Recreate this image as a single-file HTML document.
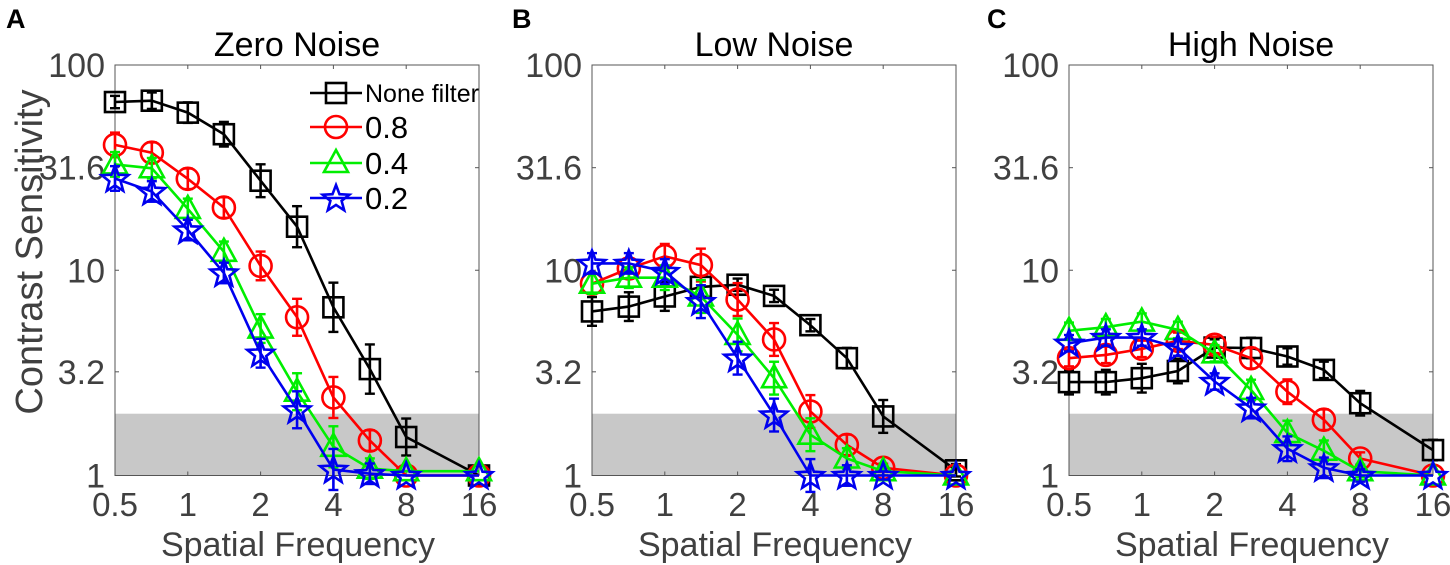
<!DOCTYPE html>
<html><head><meta charset="utf-8"><style>
html,body{margin:0;padding:0;background:#fff;}
svg{display:block;font-family:"Liberation Sans",Arial,sans-serif;}
</style></head><body>
<svg id="fig" width="1450" height="565" viewBox="0 0 1450 565" xmlns="http://www.w3.org/2000/svg"></svg>
<script>
const freqs=[0.5,0.71,1,1.41,2,2.83,4,5.66,8,16];
const xTicks=[0.5,1,2,4,8,16];
const xTickLabels=["0.5","1","2","4","8","16"];
const yTicks=[1,3.2,10,31.6,100];
const yTickLabels=["1","3.2","10","31.6","100"];
const panelTitles=["Zero Noise","Low Noise","High Noise"];
const panelLetters=["A","B","C"];
const seriesNames=["None filter","0.8","0.4","0.2"];
const shadeTop=2;
// panel A
const zeroBlack=[66,67,58.6,46,27.3,16.3,6.6,3.3,1.54,1];
const zeroRed=[40.8,37.4,27.9,20.2,10.5,5.9,2.4,1.48,1,1];
const zeroGreen=[32.8,31.4,19.9,12.3,5.2,2.56,1.38,1.08,1.05,1.05];
const zeroBlue=[28,24.2,15.7,9.7,3.94,2.09,1.07,1.02,1,1];
const zeroBlackErr=[0.03,0.04,0.05,0.06,0.08,0.1,0.12,0.12,0.09,0];
const zeroColErr=[0.06,0.05,0.05,0.05,0.07,0.09,0.1,0.05,0,0];
// panel B
const lowBlack=[6.3,6.65,7.45,8.3,8.5,7.5,5.4,3.73,1.94,1.06];
const lowRed=[8.6,10.2,11.7,10.6,7.2,4.6,2.05,1.41,1.09,1];
const lowGreen=[8.6,9.2,9.2,7.45,4.84,2.98,1.58,1.21,1.05,1];
const lowBlue=[10.8,10.8,9.86,7.03,3.73,1.97,1,1,1,1];
const lowBlackErr=[0.07,0.07,0.07,0.05,0.03,0.03,0.03,0.05,0.08,0.03];
const lowColErr=[0.05,0.05,0.06,0.08,0.08,0.08,0.08,0.05,0.02,0];
// panel C
const highBlack=[2.85,2.85,2.98,3.23,4.2,4.18,3.8,3.27,2.25,1.33];
const highRed=[3.73,3.87,4.14,4.53,4.33,3.73,2.56,1.87,1.21,1];
const highGreen=[5.07,5.28,5.62,5.12,3.94,2.61,1.61,1.32,1.05,1];
const highBlue=[4.41,4.7,4.7,4.2,2.87,2.13,1.35,1.09,1,1];
const highBlackErr=[0.06,0.06,0.07,0.06,0.04,0.05,0.04,0.04,0.06,0.05];
const highColErr=[0.04,0.04,0.04,0.04,0.04,0.05,0.06,0.05,0.03,0];

const panels=[
 {left:115,letterX:6,series:[zeroBlack,zeroRed,zeroGreen,zeroBlue],errs:[zeroBlackErr,zeroColErr,zeroColErr,zeroColErr]},
 {left:592,letterX:512,series:[lowBlack,lowRed,lowGreen,lowBlue],errs:[lowBlackErr,lowColErr,lowColErr,lowColErr]},
 {left:1069,letterX:987,series:[highBlack,highRed,highGreen,highBlue],errs:[highBlackErr,highColErr,highColErr,highColErr]}
];
const colors=["#000","#ff0000","#00ee00","#0000ee"];
const W=364,TOP=65,BOT=475.5;
const NS="http://www.w3.org/2000/svg";
const svg=document.getElementById('fig');
function mk(tag,attrs,parent,txt){const e=document.createElementNS(NS,tag);for(const k in attrs)e.setAttribute(k,attrs[k]);if(txt!==undefined)e.textContent=txt;(parent||svg).appendChild(e);return e;}
function starPts(cx,cy,R){const r=R*0.42;let p=[];for(let i=0;i<10;i++){const a=-Math.PI/2+i*Math.PI/5;const rr=i%2?r:R;p.push((cx+rr*Math.cos(a)).toFixed(1)+','+(cy+rr*Math.sin(a)).toFixed(1));}return p.join(' ');}
function marker(k,cx,cy,g){
 const c=colors[k];const st={fill:'none',stroke:c,'stroke-width':2.6};
 let m;
 if(k===0){m=mk('rect',Object.assign({x:cx-10,y:cy-10,width:20,height:20},st),g);}
 else if(k===1){m=mk('circle',Object.assign({cx:cx,cy:cy,r:11},st),g);}
 else if(k===2){m=mk('polygon',Object.assign({points:`${cx},${cy-13} ${cx+12},${cy+9} ${cx-12},${cy+9}`},st),g);}
 else {m=mk('polygon',Object.assign({points:starPts(cx,cy+1,14)},st),g);}
 
 
}
panels.forEach((P,pi)=>{
 const L=P.left,R=L+W;
 const xs=v=>L+Math.log2(v/0.5)/5*W;
 const ys=v=>BOT-Math.log10(v)/2*(BOT-TOP);
 const g=mk('g',{});
 
 
 const sh=mk('rect',{x:L,y:ys(shadeTop),width:W,height:BOT-ys(shadeTop),fill:'#c8c8c8'},g);
 
 
 const ax=mk('rect',{x:L,y:TOP,width:W,height:BOT-TOP,fill:'none',stroke:'#555','stroke-width':1},g);
 
 
 xTicks.forEach((t,i)=>{
  const x=xs(t);
  mk('line',{x1:x,y1:BOT,x2:x,y2:BOT-4,stroke:'#555'},g);
  mk('line',{x1:x,y1:TOP,x2:x,y2:TOP+4,stroke:'#555'},g);
  const tl=mk('text',{x:x,y:516,'text-anchor':'middle','font-size':33,fill:'#404040'},g,xTickLabels[i]);
  
  
 });
 yTicks.forEach((t,i)=>{
  const y=ys(t);
  mk('line',{x1:L,y1:y,x2:L+4,y2:y,stroke:'#555'},g);
  mk('line',{x1:R,y1:y,x2:R-4,y2:y,stroke:'#555'},g);
  const tl=mk('text',{x:L-10,y:y+12,'text-anchor':'end','font-size':34,fill:'#404040'},g,yTickLabels[i]);
  
  
 });
 const xt=mk('text',{x:L+W/2+1,y:556,'text-anchor':'middle','font-size':34,fill:'#404040'},g,'Spatial Frequency');
 
 
 const tt=mk('text',{x:L+W/2,y:56,'text-anchor':'middle','font-size':34,fill:'#000'},g,panelTitles[pi]);
 
 
 const lt=mk('text',{x:P.letterX,y:28,'font-size':27,'font-weight':'bold',fill:'#000'},g,panelLetters[pi]);
 
 
 P.series.forEach((vals,k)=>{
  const sg=mk('g',{},g);
  
  
  const pts=vals.map((v,i)=>xs(freqs[i]).toFixed(1)+','+ys(v).toFixed(1)).join(' ');
  mk('polyline',{points:pts,fill:'none',stroke:colors[k],'stroke-width':2.6},sg);
  vals.forEach((v,i)=>{
   const e=P.errs[k][i];if(e<=0)return;
   const x=xs(freqs[i]);const y1=ys(Math.pow(10,Math.log10(v)+e)),y2=ys(Math.pow(10,Math.log10(v)-e));
   mk('line',{x1:x,y1:y1,x2:x,y2:y2,stroke:colors[k],'stroke-width':2.6},sg);
   mk('line',{x1:x-5,y1:y1,x2:x+5,y2:y1,stroke:colors[k],'stroke-width':2.4},sg);
   mk('line',{x1:x-5,y1:y2,x2:x+5,y2:y2,stroke:colors[k],'stroke-width':2.4},sg);
  });
  vals.forEach((v,i)=>marker(k,xs(freqs[i]),ys(v),sg));
 });
});
const yl=mk('text',{x:0,y:0,transform:'translate(42,252) rotate(-90)','text-anchor':'middle','font-size':38,fill:'#404040'},svg,'Contrast Sensitivity');


const lg=mk('g',{});


const legY=[93,127,163,198];
seriesNames.forEach((n,k)=>{
 const eg=mk('g',{},lg);
 
 
 mk('line',{x1:310,y1:legY[k],x2:362,y2:legY[k],stroke:colors[k],'stroke-width':2.6},eg);
 marker(k,336,legY[k],eg);
 mk('text',{x:365,y:legY[k]+(k===0?9:11),'font-size':k===0?25:31,fill:'#000'},eg,n);
});
</script>
</body></html>
